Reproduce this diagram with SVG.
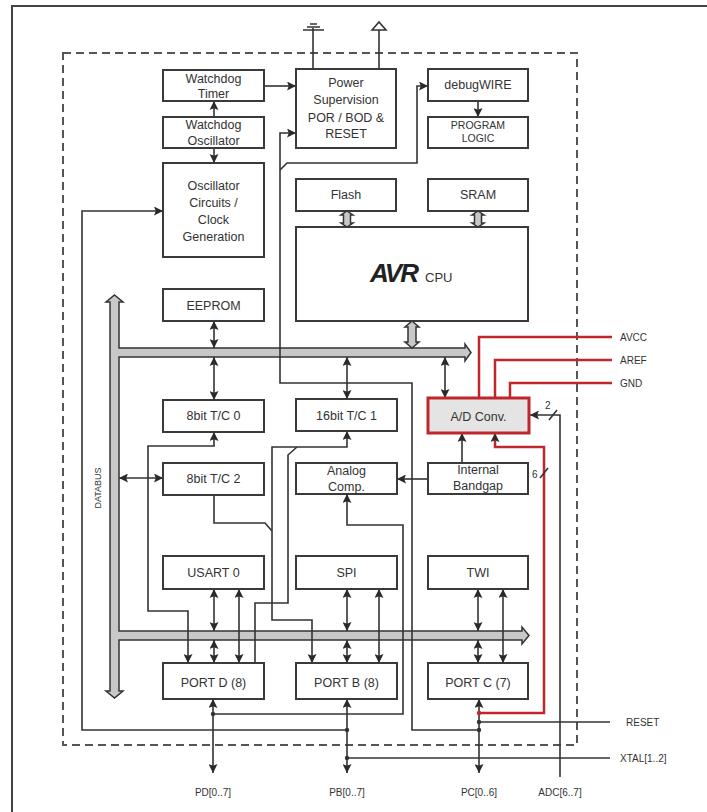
<svg xmlns="http://www.w3.org/2000/svg" width="707" height="812" viewBox="0 0 707 812">
<defs>
<marker id="ah" viewBox="0 0 10 10" refX="10" refY="5" markerWidth="9" markerHeight="9" markerUnits="userSpaceOnUse" orient="auto-start-reverse">
<path d="M0,0 L10,5 L0,10 L2,5 z" fill="#2a2a2a"/>
</marker>
<style>
.box{fill:#fff;stroke:#3a3a3a;stroke-width:2}
.t{font-family:"Liberation Sans",Arial,sans-serif;font-size:12.5px;fill:#333;text-anchor:middle}
.s{font-size:10.5px}
.lbl{font-family:"Liberation Sans",Arial,sans-serif;font-size:10px;fill:#333}
.c{fill:none;stroke:#333;stroke-width:1.6}
.r{fill:none;stroke:#c0272d;stroke-width:2.5}
.bus{fill:#c8c8c8;stroke:#333;stroke-width:1.5}
.d{marker-start:url(#ah);marker-end:url(#ah)}
.e{marker-end:url(#ah)}
</style>
</defs>
<rect width="707" height="812" fill="#fff"/>
<path d="M12,812 V6 H707" fill="none" stroke="#444" stroke-width="2"/>
<rect x="63" y="53" width="514" height="692" fill="none" stroke="#555" stroke-width="2" stroke-dasharray="8 5"/>

<g id="power-symbols" fill="none" stroke="#333" stroke-width="1.6">
<path d="M313,69 V28 M310,24 H317 M307,27 H320 M303,30 H324"/>
<path d="M379,69 V30"/>
<path d="M372,30 L379,22 L386,30 Z" fill="#fff"/>
</g>

<g id="databus">
<path class="bus" d="M114.5,295 L123,302 L119,302 L119,348 L465,348 L465,344 L471,352.5 L465,361 L465,357 L119,357 L119,631 L522,631 L522,627 L529,635.5 L522,644 L522,640 L119,640 L119,691 L123,691 L114.5,698 L106,691 L110,691 L110,302 L106,302 Z"/>
<text class="lbl" style="font-size:9px" transform="translate(101,488) rotate(-90)" text-anchor="middle">DATABUS</text>
<path class="bus" d="M412,321 L419,327 L416,327 L416,342 L419,342 L412,348 L405,342 L408,342 L408,327 L405,327 Z"/>
<path class="bus" d="M347,211 L353,215 L350.5,215 L350.5,223 L353,223 L347,227 L341,223 L343.5,223 L343.5,215 L341,215 Z"/>
<path class="bus" d="M478,211 L484,215 L481.5,215 L481.5,223 L484,223 L478,227 L472,223 L474.5,223 L474.5,215 L472,215 Z"/>
</g>

<g id="connectors">
<path class="c e" d="M264,86 H296"/>
<path class="c e" d="M214,117 V101"/>
<path class="c e" d="M214,148 V163"/>
<path class="c e" d="M478,101 V117"/>
<path class="c e" d="M479,730 H412 V383 H280 V133 H296"/>
<path class="c e" d="M280,170 L287,163 H417 V86 H428"/>
<path class="c e" d="M347,730 H82 V211 H163"/>
<path class="c" d="M347,758 H610"/>
<path class="c" d="M479,722 H610"/>
<path class="c d" d="M213,699 V773"/>
<path class="c d" d="M347,699 V773"/>
<path class="c d" d="M479,699 V773"/>
<path class="c e" d="M213,714 H403 V525 H347 V494"/>
<path class="r" d="M479,713 H544 V447 H495 V436"/>
<path class="c e" d="M495,440 V433"/>
<path class="c" d="M540,478 L548,468"/>
<text class="lbl" x="532" y="478">6</text>
<path class="c e" d="M560,777 V415 H530"/>
<path class="c" d="M549,420 L557,410"/>
<text class="lbl" x="545" y="409">2</text>
<path class="r" d="M479,398 V337 H612"/>
<path class="r" d="M495,398 V360 H612"/>
<path class="r" d="M510,398 V383 H612"/>
<path class="c e" d="M462,463 V433"/>
<path class="c e" d="M428,479 H397"/>
<path class="c d" d="M188,663 V611 H148 V446 H214 V432"/>
<path class="c d" d="M312,663 V620 H272 V447 H347 V431"/>
<path class="c" d="M297,447 L288,455 V603 H255 V663"/>
<path class="c" d="M214,495 V523 H265 L272,531"/>
<path class="c d" d="M119,478 H163"/>
<path class="c d" d="M214,321 V348"/>
<path class="c d" d="M214,357 V400"/>
<path class="c d" d="M347,357 V399"/>
<path class="c d" d="M445,357 V398"/>
<path class="c d" d="M214,589 V631"/>
<path class="c d" d="M214,640 V663"/>
<path class="c d" d="M239,589 V663"/>
<path class="c d" d="M347,589 V631"/>
<path class="c d" d="M347,640 V663"/>
<path class="c d" d="M379,589 V663"/>
<path class="c d" d="M478,589 V631"/>
<path class="c d" d="M478,640 V663"/>
<path class="c d" d="M503,589 V663"/>
<g fill="#333">
<circle cx="479" cy="730" r="2.2"/><circle cx="347" cy="730" r="2.2"/><circle cx="347" cy="758" r="2.2"/>
<circle cx="479" cy="722" r="2.2"/><circle cx="213" cy="714" r="2.2"/><circle cx="479" cy="713" r="2.2" fill="#c0272d"/>
</g>
</g>

<g id="pin-labels">
<text class="lbl" x="620" y="341">AVCC</text>
<text class="lbl" x="620" y="364">AREF</text>
<text class="lbl" x="620" y="387">GND</text>
<text class="lbl" x="626" y="726">RESET</text>
<text class="lbl" x="620" y="762">XTAL[1..2]</text>
<text class="lbl" x="213" y="796" text-anchor="middle">PD[0..7]</text>
<text class="lbl" x="347" y="796" text-anchor="middle">PB[0..7]</text>
<text class="lbl" x="479" y="796" text-anchor="middle">PC[0..6]</text>
<text class="lbl" x="560" y="796" text-anchor="middle">ADC[6..7]</text>
</g>

<g id="watchdog-timer"><rect class="box" x="163" y="70" width="101" height="31"/><text class="t" x="213.5" y="83">Watchdog</text><text class="t" x="213.5" y="98">Timer</text></g>
<g id="watchdog-osc"><rect class="box" x="163" y="117" width="101" height="31"/><text class="t" x="213.5" y="129">Watchdog</text><text class="t" x="213.5" y="145">Oscillator</text></g>
<g id="osc-circuits"><rect class="box" x="163" y="163" width="101" height="94"/><text class="t" x="213.5" y="190">Oscillator</text><text class="t" x="213.5" y="207">Circuits /</text><text class="t" x="213.5" y="224">Clock</text><text class="t" x="213.5" y="241">Generation</text></g>
<g id="power-supervision"><rect class="box" x="296" y="69" width="100" height="79"/><text class="t" x="346" y="87">Power</text><text class="t" x="346" y="104">Supervision</text><text class="t" x="346" y="122">POR / BOD &amp;</text><text class="t" x="346" y="138">RESET</text></g>
<g id="debugwire"><rect class="box" x="428" y="69" width="100" height="32"/><text class="t" x="478" y="89">debugWIRE</text></g>
<g id="program-logic"><rect class="box" x="428" y="117" width="100" height="31"/><text class="t s" x="478" y="129">PROGRAM</text><text class="t s" x="478" y="142">LOGIC</text></g>
<g id="flash"><rect class="box" x="296" y="179" width="100" height="32"/><text class="t" x="346" y="199">Flash</text></g>
<g id="sram"><rect class="box" x="428" y="179" width="100" height="32"/><text class="t" x="478" y="199">SRAM</text></g>
<g id="avr-cpu"><rect class="box" x="296" y="227" width="232" height="94"/><text x="370" y="282" font-family="Liberation Sans,Arial,sans-serif" font-size="26" font-weight="bold" font-style="italic" fill="#222" letter-spacing="-2">AVR</text><text x="425" y="282" font-family="Liberation Sans,Arial,sans-serif" font-size="13" fill="#333">CPU</text></g>
<g id="eeprom"><rect class="box" x="163" y="289" width="101" height="32"/><text class="t" x="213.5" y="310">EEPROM</text></g>
<g id="tc0"><rect class="box" x="163" y="400" width="101" height="32"/><text class="t" x="213.5" y="420">8bit T/C 0</text></g>
<g id="tc1"><rect class="box" x="296" y="399" width="101" height="32"/><text class="t" x="346.5" y="420">16bit T/C 1</text></g>
<g id="adc"><rect x="428" y="398" width="101" height="35" fill="#e4e4e4" stroke="#c0272d" stroke-width="3"/><text class="t" x="478.5" y="421">A/D Conv.</text></g>
<g id="tc2"><rect class="box" x="163" y="463" width="101" height="32"/><text class="t" x="213.5" y="483">8bit T/C 2</text></g>
<g id="analog-comp"><rect class="box" x="296" y="463" width="101" height="31"/><text class="t" x="346.5" y="475">Analog</text><text class="t" x="346.5" y="491">Comp.</text></g>
<g id="bandgap"><rect class="box" x="428" y="463" width="100" height="31"/><text class="t" x="478" y="474">Internal</text><text class="t" x="478" y="490">Bandgap</text></g>
<g id="usart0"><rect class="box" x="163" y="556" width="101" height="33"/><text class="t" x="213.5" y="577">USART 0</text></g>
<g id="spi"><rect class="box" x="296" y="556" width="101" height="33"/><text class="t" x="346.5" y="577">SPI</text></g>
<g id="twi"><rect class="box" x="428" y="556" width="100" height="33"/><text class="t" x="478" y="577">TWI</text></g>
<g id="portd"><rect class="box" x="163" y="663" width="101" height="36"/><text class="t" x="213.5" y="687">PORT D (8)</text></g>
<g id="portb"><rect class="box" x="296" y="663" width="101" height="36"/><text class="t" x="346.5" y="687">PORT B (8)</text></g>
<g id="portc"><rect class="box" x="428" y="663" width="100" height="36"/><text class="t" x="478" y="687">PORT C (7)</text></g>
</svg>
